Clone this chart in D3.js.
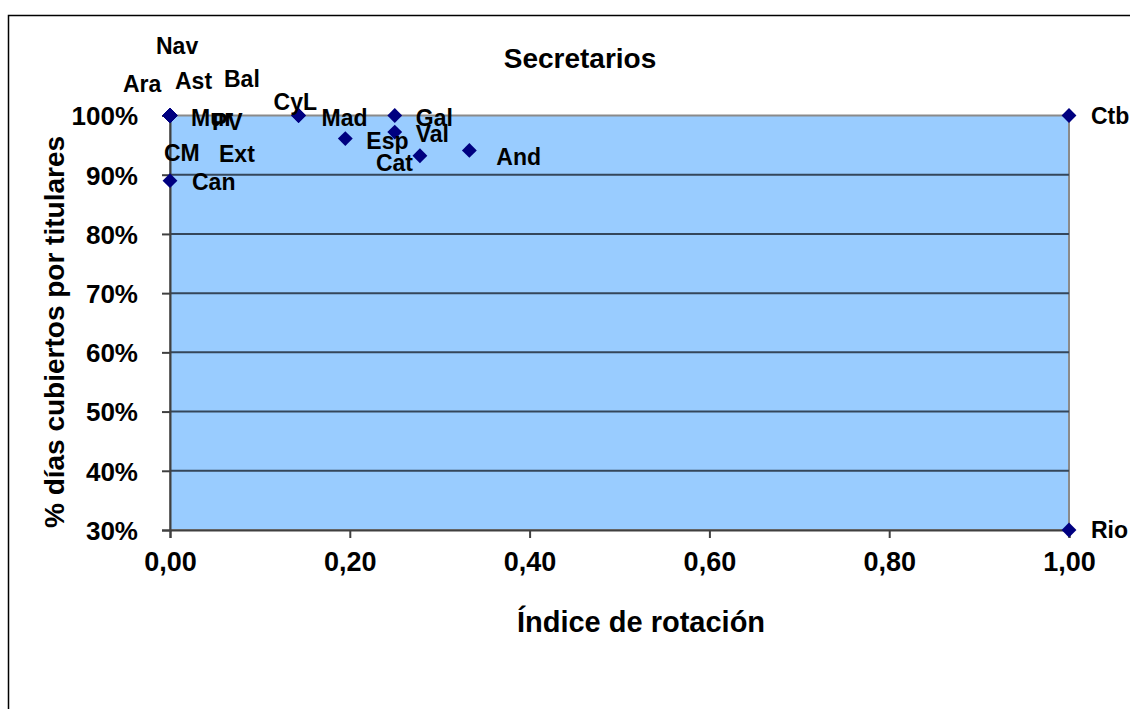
<!DOCTYPE html>
<html>
<head>
<meta charset="utf-8">
<script src="https://cdn.jsdelivr.net/npm/d3@7"></script>
<style>
  html, body { margin: 0; padding: 0; background: #fff; }
  svg text { font-family: "Liberation Sans", Arial, sans-serif; font-weight: bold; fill: #000; }
</style>
</head>
<body>
<svg id="chart" width="1130" height="709"></svg>
<script>
// ---- data ----
const regions   = ["Ara","Nav","Ast","Bal","Mur","PV","CM","Ext","Can","CyL","Mad","Esp","Gal","Val","Cat","And","Ctb","Rio"];
const rotacion  = [0, 0, 0, 0, 0, 0, 0, 0, 0, 0.143, 0.143, 0.195, 0.25, 0.25, 0.278, 0.333, 1, 1];
const cobertura = [1, 1, 1, 1, 1, 1, 1, 1, 0.89, 1, 1, 0.961, 1, 0.972, 0.932, 0.941, 1, 0.30];
const xTicks = [0, 0.2, 0.4, 0.6, 0.8, 1.0];
const yTicks = [0.3, 0.4, 0.5, 0.6, 0.7, 0.8, 0.9, 1.0];
const chartTitle = "Secretarios";
const xTitle = "Índice de rotación";
const yTitle = "% días cubiertos por titulares";
// label nudges relative to each point (px), as placed in the original
const labelDx = [-47, -14, 5, 54, 21, 42, -6, 49, 22, -25, 23, 21, 21, 21, -44, 27, 22, 22];
const labelDy = [-32, -70, -35, -37, 2, 6, 37, 38, 1, -14, 2, 2, 2, 2, 7, 6, 0, 0];

// ---- layout ----
const svg = d3.select("#chart");
const plot = { left: 170, right: 1069, top: 115.5, bottom: 530 };

const x = d3.scaleLinear().domain([0, 1]).range([plot.left, plot.right]);
const y = d3.scaleLinear().domain([0.3, 1.0]).range([plot.bottom, plot.top]);

// outer chart frame
svg.append("rect").attr("x", 8.5).attr("y", 15.5).attr("width", 1130).attr("height", 720)
  .attr("fill", "#fff").attr("stroke", "#000").attr("stroke-width", 1.5);

// plot area
svg.append("rect").attr("x", plot.left).attr("y", plot.top)
  .attr("width", plot.right - plot.left).attr("height", plot.bottom - plot.top)
  .attr("fill", "#99ccff").attr("stroke", "#8a8a8a").attr("stroke-width", 2);

// gridlines
svg.append("g").selectAll("line").data(yTicks.filter(d => d > 0.3 && d < 1.0)).join("line")
  .attr("x1", plot.left).attr("x2", plot.right)
  .attr("y1", d => y(d)).attr("y2", d => y(d))
  .attr("stroke", "#34465a").attr("stroke-width", 2);

// axes
const yAxis = d3.axisLeft(y).tickValues(yTicks).tickFormat(d => Math.round(d * 100) + "%")
  .tickSize(8).tickPadding(24);
const gy = svg.append("g").attr("transform", `translate(${plot.left},0)`).call(yAxis);
gy.select(".domain").attr("stroke", "#404040").attr("stroke-width", 2);
gy.selectAll(".tick line").attr("stroke", "#404040").attr("stroke-width", 2);
gy.selectAll(".tick text").style("font-size", "26px").attr("dy", "0.36em");

const xAxis = d3.axisBottom(x).tickValues(xTicks).tickFormat(d => d3.format(".2f")(d).replace(".", ","))
  .tickSize(8).tickPadding(14);
const gx = svg.append("g").attr("transform", `translate(0,${plot.bottom})`).call(xAxis);
gx.select(".domain").attr("stroke", "#404040").attr("stroke-width", 2);
gx.selectAll(".tick line").attr("stroke", "#404040").attr("stroke-width", 2);
gx.selectAll(".tick text").style("font-size", "27px");

// titles
svg.append("text").attr("x", 580).attr("y", 58).attr("text-anchor", "middle")
  .attr("dy", "0.36em").style("font-size", "28px").text(chartTitle);
svg.append("text").attr("x", 641).attr("y", 622).attr("text-anchor", "middle")
  .attr("dy", "0.36em").style("font-size", "29px").text(xTitle);
svg.append("text").attr("transform", "translate(54,332) rotate(-90)").attr("text-anchor", "middle")
  .attr("dy", "0.36em").style("font-size", "28px").text(yTitle);

// points
const idx = d3.range(regions.length);
svg.append("g").selectAll("path").data(idx).join("path")
  .attr("d", d3.symbol().type(d3.symbolSquare).size(110))
  .attr("transform", i => `translate(${x(rotacion[i])},${y(cobertura[i])}) rotate(45)`)
  .attr("fill", "#000080");

// labels
svg.append("g").selectAll("text").data(idx).join("text")
  .attr("x", i => x(rotacion[i]) + labelDx[i])
  .attr("y", i => y(cobertura[i]) + labelDy[i])
  .attr("dy", "0.36em")
  .style("font-size", "23px")
  .text(i => regions[i]);
</script>
</body>
</html>
